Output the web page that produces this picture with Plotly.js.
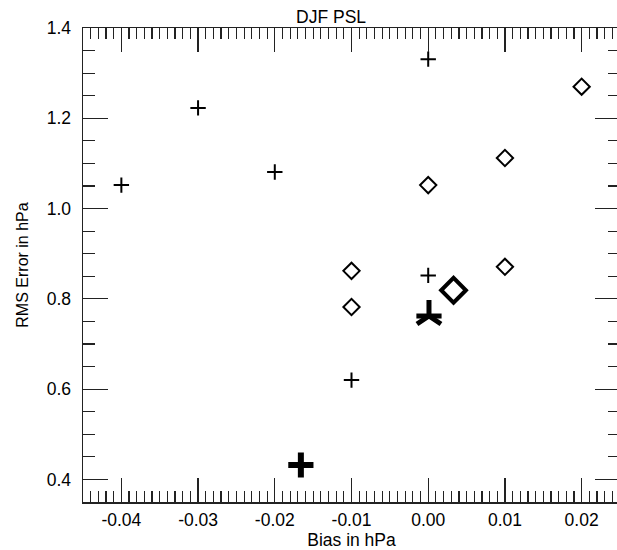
<!DOCTYPE html>
<html>
<head>
<meta charset="utf-8">
<script src="https://cdn.plot.ly/plotly-3.0.1.min.js"></script>
<style>
html, body { margin: 0; padding: 0; overflow: hidden; background: #fff; }
#chart { width: 621px; height: 550px; }
</style>
</head>
<body>
<div id="chart"></div>
<script>
// Small "+" markers
const plusX = [-0.04, -0.03, -0.02, 0.0, 0.0, -0.01];
const plusY = [1.052, 1.223, 1.081, 1.331, 0.852, 0.620];
// Small open diamonds
const diamX = [-0.01, -0.01, 0.0, 0.01, 0.01, 0.02];
const diamY = [0.862, 0.782, 1.052, 1.112, 0.871, 1.270];
// Large "+" marker
const bigPlusX = [-0.0166];
const bigPlusY = [0.432];
// Large open diamond
const bigDiamX = [0.0033];
const bigDiamY = [0.819];
// Asterisk marker
const starX = [0.0001];
const starY = [0.762];

// Axis ticks
const xTickVals = [-0.04, -0.03, -0.02, -0.01, 0.0, 0.01, 0.02];
const xTickLabels = ["-0.04", "-0.03", "-0.02", "-0.01", "0.00", "0.01", "0.02"];
const yTickVals = [0.4, 0.6, 0.8, 1.0, 1.2, 1.4];
const yTickLabels = ["0.4", "0.6", "0.8", "1.0", "1.2", "1.4"];

const FONT = "Liberation Sans, Arial, Helvetica, sans-serif";
const INK = "#000000";
const FS = 17.5;

const traces = [
  { x: plusX, y: plusY, mode: "markers", type: "scatter",
    marker: { symbol: "cross-thin-open", size: 11, color: INK, line: { color: INK, width: 2 } } },
  { x: diamX, y: diamY, mode: "markers", type: "scatter",
    marker: { symbol: "diamond-open", size: 12.5, color: INK, line: { color: INK, width: 2 } } },
  { x: bigPlusX, y: bigPlusY, mode: "markers", type: "scatter",
    marker: { symbol: "cross-thin-open", size: 18, color: INK, line: { color: INK, width: 6 } } },
  { x: bigDiamX, y: bigDiamY, mode: "markers", type: "scatter",
    marker: { symbol: "diamond-open", size: 19, color: INK, line: { color: INK, width: 4 } } },
  { x: starX, y: starY, mode: "markers", type: "scatter",
    marker: { symbol: "y-up-open", size: 20, color: INK, line: { color: INK, width: 5 } } },
  { x: starX, y: starY, mode: "markers", type: "scatter",
    marker: { symbol: "line-ew-open", size: 18, color: INK, line: { color: INK, width: 5 } } }
];

const layout = {
  width: 621,
  height: 550,
  margin: { l: 83, r: 1, t: 28, b: 48, pad: 0 },
  paper_bgcolor: "#ffffff",
  plot_bgcolor: "#ffffff",
  showlegend: false,
  font: { family: FONT, size: FS, color: INK },
  title: {
    text: "DJF PSL",
    font: { family: FONT, size: FS, color: INK },
    x: 0.462, xref: "paper", xanchor: "center",
    y: 0.969, yref: "container", yanchor: "middle"
  },
  xaxis: {
    range: [-0.045, 0.025],
    tickmode: "array",
    tickvals: xTickVals,
    ticktext: xTickLabels,
    ticks: "inside",
    ticklen: 24,
    tickwidth: 1.2,
    tickcolor: "#222",
    showline: true,
    linecolor: "#222",
    linewidth: 1.5,
    mirror: "ticks",
    showgrid: false,
    zeroline: false,
    ticklabelstandoff: 1,
    minor: { dtick: 0.001, tick0: 0, ticks: "inside", ticklen: 11, tickwidth: 1.2, tickcolor: "#222", showgrid: false },
    title: { text: "Bias in hPa", font: { family: FONT, size: FS, color: INK }, standoff: 3 },
    tickfont: { family: FONT, size: FS, color: INK }
  },
  yaxis: {
    range: [0.35, 1.4],
    tickmode: "array",
    tickvals: yTickVals,
    ticktext: yTickLabels,
    ticks: "inside",
    ticklen: 25,
    tickwidth: 1.2,
    tickcolor: "#222",
    showline: true,
    linecolor: "#222",
    linewidth: 1.5,
    mirror: "ticks",
    showgrid: false,
    zeroline: false,
    ticklabelstandoff: 7,
    minor: { dtick: 0.05, tick0: 0, ticks: "inside", ticklen: 12, tickwidth: 1.2, tickcolor: "#222", showgrid: false },
    title: { text: "RMS Error in hPa", font: { family: FONT, size: 16, color: INK }, standoff: 14 },
    tickfont: { family: FONT, size: FS, color: INK }
  }
};

Plotly.newPlot("chart", traces, layout, { displayModeBar: false, staticPlot: true });
</script>
</body>
</html>
